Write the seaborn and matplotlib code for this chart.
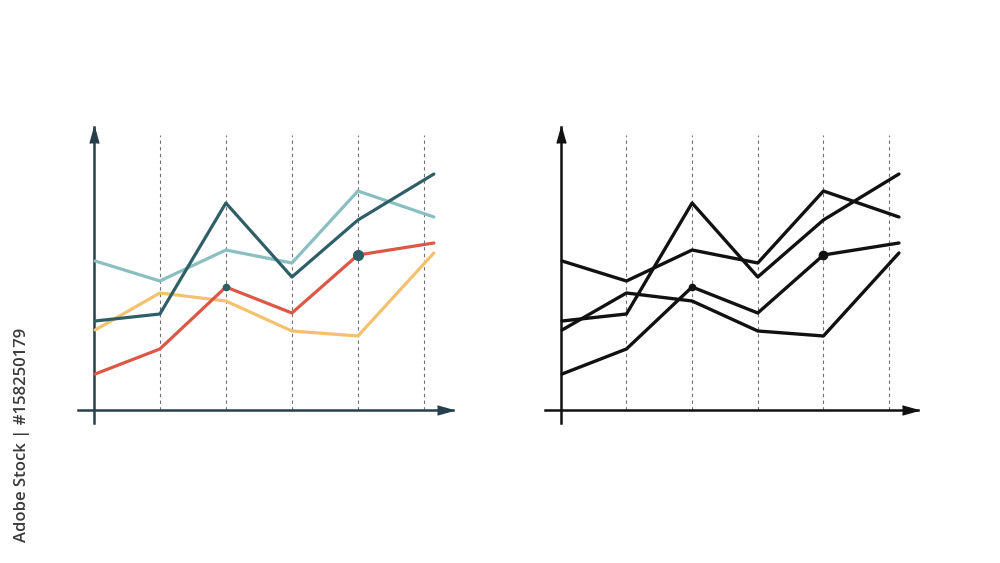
import numpy as np
import pandas as pd
import matplotlib
matplotlib.use("Agg")
import matplotlib.pyplot as plt
import seaborn as sns

# ---- data ----
x_pos = [0.02, 1, 2, 3, 4, 5.15]
dark_teal = [8.9, 9.6, 20.7, 13.3, 19.0, 23.6]
light_teal = [14.9, 12.9, 16.0, 14.7, 21.9, 19.3]
red = [3.6, 6.1, 12.3, 9.7, 15.5, 16.7]
orange = [8.0, 11.7, 10.9, 7.9, 7.4, 15.7]
series_names = ["light_teal", "orange", "red", "dark_teal"]
grid_x = [1, 2, 3, 4, 5]
dot_big = (4, 15.5)
dot_small = (2, 12.3)

colors = {"dark_teal": "#2f5f66", "light_teal": "#89bfc1",
          "red": "#dc5745", "orange": "#f4c170"}
values = {"dark_teal": dark_teal, "light_teal": light_teal,
          "red": red, "orange": orange}

df = pd.concat([pd.DataFrame({"x": x_pos, "y": values[n], "series": n})
                for n in series_names], ignore_index=True)

sns.set_theme(style="white")
plt.rcParams['font.family'] = ['Open Sans', 'DejaVu Sans']

fig = plt.figure(figsize=(10, 5.63), dpi=100)
ax_l = fig.add_axes([0.078, 0.2487, 0.375, 0.5257])
ax_r = fig.add_axes([0.545, 0.2487, 0.373, 0.5257])

def style_axes(ax, axis_color):
    ax.set_xlim(-0.24, 5.44)
    ax.set_ylim(-1.3, 28.3)
    for s in ["top", "right"]:
        ax.spines[s].set_visible(False)
    ax.spines["left"].set_position(("data", 0))
    ax.spines["bottom"].set_position(("data", 0))
    for s in ["left", "bottom"]:
        ax.spines[s].set_color(axis_color)
        ax.spines[s].set_linewidth(1.8)
    ax.set_xticks([])
    ax.set_yticks([])
    ax.set_xlabel("")
    ax.set_ylabel("")
    ax.set_facecolor("none")
    # arrowheads
    ax.plot([1], [0], marker=[(-16, -4.5), (0, 0), (-16, 4.5)], markersize=23,
            color=axis_color, transform=ax.get_yaxis_transform(), clip_on=False,
            zorder=5)
    ax.plot([0], [1], marker=[(-4.5, -16), (0, 0), (4.5, -16)], markersize=23,
            color=axis_color, transform=ax.get_xaxis_transform(), clip_on=False,
            zorder=5)
    for gx in grid_x:
        ax.plot([gx, gx], [0, 27.5], color="#707070", lw=0.8,
                linestyle=(0, (3, 3)), zorder=1)

# left colored panel
sns.lineplot(data=df, x="x", y="y", hue="series", palette=colors,
             hue_order=series_names, sort=False, lw=2.3, legend=False,
             ax=ax_l, zorder=3)
style_axes(ax_l, "#273f4b")
ax_l.plot([dot_big[0]], [dot_big[1]], "o", color="#2f5f66", ms=7, zorder=4)
ax_l.plot([dot_small[0]], [dot_small[1]], "o", color="#2f5f66", ms=4.5, zorder=4)

# right black panel
sns.lineplot(data=df, x="x", y="y", units="series", estimator=None,
             color="#111111", sort=False, lw=2.4, legend=False, ax=ax_r, zorder=3)
style_axes(ax_r, "#111111")
ax_r.plot([dot_big[0]], [dot_big[1]], "o", color="#111111", ms=6, zorder=4)
ax_r.plot([dot_small[0]], [dot_small[1]], "o", color="#111111", ms=4.5, zorder=4)

fig.text(0.022, 0.227, "Adobe Stock | #158250179", rotation=90,
         ha="center", va="center", fontsize=12, fontweight="semibold",
         color="#3a3a3a")

fig.savefig("out.png", dpi=100, facecolor="white")
